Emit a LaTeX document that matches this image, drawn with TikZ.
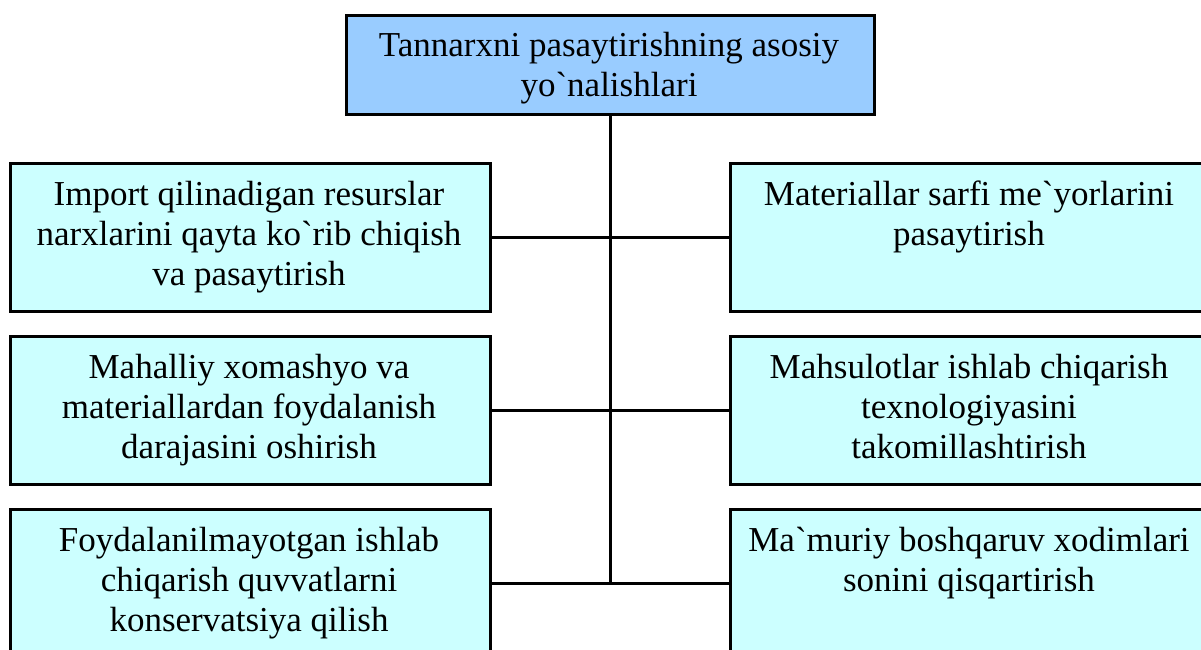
\documentclass[tikz,border=0pt]{standalone}
\usepackage{fontspec}
\newfontfamily\tnr{Liberation Serif}
\definecolor{topblue}{HTML}{99CCFF}
\definecolor{boxcyan}{HTML}{CCFFFF}
\begin{document}
\begin{tikzpicture}[x=1pt,y=-1pt,
  box/.style={draw=black, line width=2.8pt, fill=boxcyan, rectangle, minimum width=480pt, minimum height=148pt, inner sep=0pt, anchor=north west},
  topbox/.style={draw=black, line width=2.8pt, fill=topblue, rectangle, minimum width=528pt, minimum height=99pt, inner sep=0pt, anchor=north west},
  txt/.style={font=\tnr\fontsize{35}{40}\selectfont, align=center, inner sep=0pt, anchor=base},
  conn/.style={draw=black, line width=2.6pt}]
\useasboundingbox (0,0) rectangle (1201,649);
\clip (0,0) rectangle (1201,649);
\fill[white] (0,0) rectangle (1201,649);
% boxes
\node[topbox] (top) at (345,14) {};
\node[box] (l1) at (9,162) {};
\node[box] (l2) at (9,335) {};
\node[box] (l3) at (9,508) {};
\node[box] (r1) at (729,162) {};
\node[box] (r2) at (729,335) {};
\node[box] (r3) at (729,508) {};
% texts (anchored at the baseline of the last line)
\node[txt] (ttop) at (609,96) {Tannarxni pasaytirishning asosiy\\yo`nalishlari};
\node[txt] (tl1) at (249,285) {Import qilinadigan resurslar\\narxlarini qayta ko`rib chiqish\\va pasaytirish};
\node[txt] (tl2) at (249,458) {Mahalliy xomashyo va\\materiallardan foydalanish\\darajasini oshirish};
\node[txt] (tl3) at (249,631) {Foydalanilmayotgan ishlab\\chiqarish quvvatlarni\\konservatsiya qilish};
\node[txt] (tr1) at (969,245) {Materiallar sarfi me`yorlarini\\pasaytirish};
\node[txt] (tr2) at (969,458) {Mahsulotlar ishlab chiqarish\\texnologiyasini\\takomillashtirish};
\node[txt] (tr3) at (969,591) {Ma`muriy boshqaruv xodimlari\\sonini qisqartirish};
% connectors
\coordinate (j3) at (top.south |- l3.east);
\draw[conn] (top.south) -- (j3);
\draw[conn] (l1.east) -- (r1.west);
\draw[conn] (l2.east) -- (r2.west);
\draw[conn] (l3.east) -- (r3.west);
\end{tikzpicture}
\end{document}
